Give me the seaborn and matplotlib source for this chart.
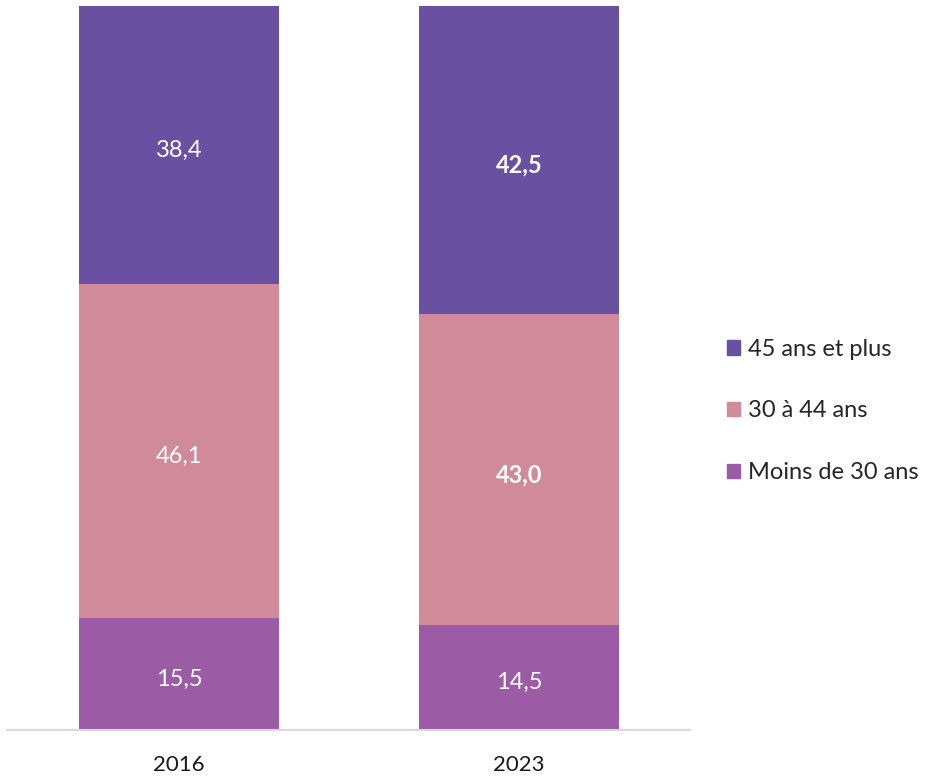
#!/usr/bin/env python3
import pandas as pd
import numpy as np
import seaborn as sns
import matplotlib.pyplot as plt
from matplotlib.patches import Patch

years = ['2016', '2023']
groups = ['Moins de 30 ans', '30 à 44 ans', '45 ans et plus']
moins_30 = [15.5, 14.5]
de_30_44 = [46.1, 43.0]
plus_45 = [38.4, 42.5]
colors = ['#9b5ba5', '#d18a99', '#6a50a1']
# which labels are in bold (2023, two upper segments)
bold = [[False, False], [False, True], [False, True]]

sns.set_theme(style='white')
plt.rcParams['font.family'] = ['Lato', 'DejaVu Sans']

df = pd.DataFrame({'year': years, groups[0]: moins_30, groups[1]: de_30_44, groups[2]: plus_45})

fig = plt.figure(figsize=(9.3, 7.78), dpi=100)
ax = fig.add_axes([7 / 930, 48 / 778, 683 / 930, 724 / 778])

bottom = np.zeros(len(years))
for i, g in enumerate(groups):
    sns.barplot(data=df, x='year', y=g, color=colors[i], bottom=bottom, width=200 / 340,
                saturation=1, ax=ax, linewidth=0)
    for j, v in enumerate(df[g]):
        ax.text(j, bottom[j] + v / 2 - 0.7, f'{v:.1f}'.replace('.', ','), color='white', fontsize=17,
                ha='center', va='center', fontweight='bold' if bold[i][j] else 'normal')
    bottom = bottom + df[g].values

ax.set_xlim(-0.506, 1.503)
ax.set_ylim(0, 100)
ax.set(xlabel=None, ylabel=None, yticks=[])
sns.despine(ax=ax, left=True, right=True, top=True)
ax.spines['bottom'].set_color('#d9d9d9')
ax.spines['bottom'].set_linewidth(1.5)
ax.tick_params(axis='x', length=0, labelsize=16, pad=18, colors='#1a1a1a')

handles = [Patch(color=colors[i], label=groups[i]) for i in [2, 1, 0]]
fig.legend(handles=handles, loc='center left', bbox_to_anchor=(727 / 930, 1 - 411 / 778), frameon=False,
           fontsize=17, handlelength=0.55, handleheight=0.55, handletextpad=0.34, labelspacing=1.72,
           borderpad=0, borderaxespad=0)

plt.savefig('out.png', dpi=100)
